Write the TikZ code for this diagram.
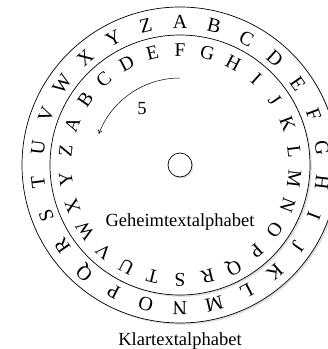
\documentclass[tikz,border=0pt]{standalone}
\usepackage{fontspec}
\setmainfont{Liberation Serif}
\usetikzlibrary{arrows.meta}
\begin{document}
\begin{tikzpicture}[x=1pt,y=1pt,
  ring/.style={draw=black,line width=0.7pt,fill=white},
  shade/.style={fill=black,opacity=0.12},
  outerletter/.style={font=\fontsize{20}{20}\selectfont,inner sep=0pt},
  innerletter/.style={font=\fontsize{19.5}{19.5}\selectfont,inner sep=0pt},
  lbl/.style={font=\fontsize{18.5}{18.5}\selectfont,inner sep=0pt}]
\useasboundingbox (-180,-184) rectangle (148,165);
% outer disk
\fill[shade] (1.8,-1.8) circle[radius=158];
\draw[ring] (0,0) circle[radius=158];
\foreach \l [count=\i from 0] in {A,B,C,D,E,F,G,H,I,J,K,L,M,N,O,P,Q,R,S,T,U,V,W,X,Y,Z}{
  \pgfmathsetmacro{\ang}{90-\i*360/26}
  \node[outerletter,rotate=\ang-90] (o\i) at (\ang:143) {\l};
}
% inner disk
\fill[shade] (1.8,-1.8) circle[radius=130];
\draw[ring] (0,0) circle[radius=130];
\foreach \l [count=\i from 0] in {A,B,C,D,E,F,G,H,I,J,K,L,M,N,O,P,Q,R,S,T,U,V,W,X,Y,Z}{
  \pgfmathsetmacro{\ang}{90-(\i-5)*360/26}
  \node[innerletter,rotate=\ang-90] (n\i) at (\ang:115) {\l};
}
% hole
\fill[shade] (1.5,-1.5) circle[radius=12];
\draw[ring] (0,0) circle[radius=12];
% arrow
\coordinate (arcstart) at (90:87);
\draw[line width=0.5pt,-{To[length=4pt,width=5pt]}] (arcstart) arc[start angle=90,end angle=159,radius=87];
\node[lbl] (five) at (124:68) {5};
\node[lbl] (geheim) at (0,-57) {Geheimtextalphabet};
\node[lbl] (klar) at (0,-176) {Klartextalphabet};
\end{tikzpicture}
\end{document}
